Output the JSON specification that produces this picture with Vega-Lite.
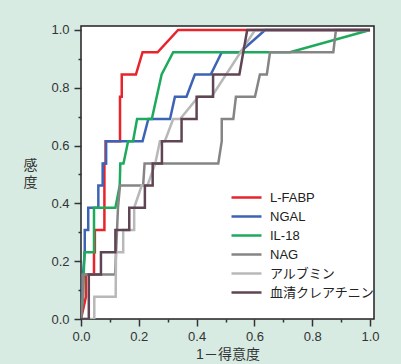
{
  "$schema": "https://vega.github.io/schema/vega-lite/v6.json",
  "width": 293,
  "height": 293,
  "autosize": {"type": "none"},
  "padding": {"left": 81, "top": 26, "right": 27, "bottom": 45},
  "background": "#d7ebe3",
  "config": {
    "view": {"fill": "white", "stroke": "#222222", "strokeWidth": 1.5},
    "font": "Liberation Sans, Noto Sans CJK JP"
  },
  "data": {"values": [
    {"s":"L-FABP","i":0,"x":0,"y":0},{"s":"L-FABP","i":1,"x":0.017,"y":0.077},{"s":"L-FABP","i":2,"x":0.017,"y":0.154},{"s":"L-FABP","i":3,"x":0.045,"y":0.154},{"s":"L-FABP","i":4,"x":0.045,"y":0.231},{"s":"L-FABP","i":5,"x":0.048,"y":0.231},{"s":"L-FABP","i":6,"x":0.048,"y":0.308},{"s":"L-FABP","i":7,"x":0.081,"y":0.308},{"s":"L-FABP","i":8,"x":0.081,"y":0.538},{"s":"L-FABP","i":9,"x":0.085,"y":0.538},{"s":"L-FABP","i":10,"x":0.085,"y":0.615},{"s":"L-FABP","i":11,"x":0.135,"y":0.615},{"s":"L-FABP","i":12,"x":0.135,"y":0.769},{"s":"L-FABP","i":13,"x":0.141,"y":0.769},{"s":"L-FABP","i":14,"x":0.141,"y":0.846},{"s":"L-FABP","i":15,"x":0.19,"y":0.846},{"s":"L-FABP","i":16,"x":0.213,"y":0.923},{"s":"L-FABP","i":17,"x":0.265,"y":0.923},{"s":"L-FABP","i":18,"x":0.336,"y":1},{"s":"L-FABP","i":19,"x":1,"y":1},
    {"s":"NGAL","i":0,"x":0,"y":0},{"s":"NGAL","i":1,"x":0.007,"y":0.154},{"s":"NGAL","i":2,"x":0.013,"y":0.231},{"s":"NGAL","i":3,"x":0.013,"y":0.308},{"s":"NGAL","i":4,"x":0.025,"y":0.308},{"s":"NGAL","i":5,"x":0.025,"y":0.385},{"s":"NGAL","i":6,"x":0.06,"y":0.385},{"s":"NGAL","i":7,"x":0.06,"y":0.462},{"s":"NGAL","i":8,"x":0.075,"y":0.462},{"s":"NGAL","i":9,"x":0.075,"y":0.538},{"s":"NGAL","i":10,"x":0.087,"y":0.538},{"s":"NGAL","i":11,"x":0.087,"y":0.615},{"s":"NGAL","i":12,"x":0.213,"y":0.615},{"s":"NGAL","i":13,"x":0.233,"y":0.692},{"s":"NGAL","i":14,"x":0.308,"y":0.692},{"s":"NGAL","i":15,"x":0.325,"y":0.769},{"s":"NGAL","i":16,"x":0.365,"y":0.769},{"s":"NGAL","i":17,"x":0.394,"y":0.846},{"s":"NGAL","i":18,"x":0.449,"y":0.846},{"s":"NGAL","i":19,"x":0.487,"y":0.923},{"s":"NGAL","i":20,"x":0.55,"y":0.923},{"s":"NGAL","i":21,"x":0.637,"y":1},{"s":"NGAL","i":22,"x":1,"y":1},
    {"s":"IL-18","i":0,"x":0,"y":0},{"s":"IL-18","i":1,"x":0.007,"y":0.077},{"s":"IL-18","i":2,"x":0.012,"y":0.231},{"s":"IL-18","i":3,"x":0.045,"y":0.231},{"s":"IL-18","i":4,"x":0.045,"y":0.385},{"s":"IL-18","i":5,"x":0.119,"y":0.385},{"s":"IL-18","i":6,"x":0.134,"y":0.462},{"s":"IL-18","i":7,"x":0.136,"y":0.538},{"s":"IL-18","i":8,"x":0.147,"y":0.538},{"s":"IL-18","i":9,"x":0.163,"y":0.615},{"s":"IL-18","i":10,"x":0.18,"y":0.615},{"s":"IL-18","i":11,"x":0.194,"y":0.692},{"s":"IL-18","i":12,"x":0.245,"y":0.692},{"s":"IL-18","i":13,"x":0.279,"y":0.846},{"s":"IL-18","i":14,"x":0.319,"y":0.923},{"s":"IL-18","i":15,"x":0.723,"y":0.923},{"s":"IL-18","i":16,"x":1,"y":1},
    {"s":"NAG","i":0,"x":0,"y":0},{"s":"NAG","i":1,"x":0.006,"y":0.077},{"s":"NAG","i":2,"x":0.006,"y":0.154},{"s":"NAG","i":3,"x":0.118,"y":0.154},{"s":"NAG","i":4,"x":0.128,"y":0.385},{"s":"NAG","i":5,"x":0.135,"y":0.462},{"s":"NAG","i":6,"x":0.215,"y":0.462},{"s":"NAG","i":7,"x":0.22,"y":0.538},{"s":"NAG","i":8,"x":0.475,"y":0.538},{"s":"NAG","i":9,"x":0.487,"y":0.615},{"s":"NAG","i":10,"x":0.487,"y":0.692},{"s":"NAG","i":11,"x":0.527,"y":0.692},{"s":"NAG","i":12,"x":0.536,"y":0.769},{"s":"NAG","i":13,"x":0.602,"y":0.769},{"s":"NAG","i":14,"x":0.619,"y":0.846},{"s":"NAG","i":15,"x":0.643,"y":0.846},{"s":"NAG","i":16,"x":0.654,"y":0.923},{"s":"NAG","i":17,"x":0.873,"y":0.923},{"s":"NAG","i":18,"x":0.882,"y":1},{"s":"NAG","i":19,"x":1,"y":1},
    {"s":"アルブミン","i":0,"x":0,"y":0},{"s":"アルブミン","i":1,"x":0.046,"y":0},{"s":"アルブミン","i":2,"x":0.046,"y":0.077},{"s":"アルブミン","i":3,"x":0.12,"y":0.077},{"s":"アルブミン","i":4,"x":0.121,"y":0.231},{"s":"アルブミン","i":5,"x":0.146,"y":0.231},{"s":"アルブミン","i":6,"x":0.146,"y":0.308},{"s":"アルブミン","i":7,"x":0.184,"y":0.308},{"s":"アルブミン","i":8,"x":0.184,"y":0.385},{"s":"アルブミン","i":9,"x":0.21,"y":0.462},{"s":"アルブミン","i":10,"x":0.23,"y":0.462},{"s":"アルブミン","i":11,"x":0.257,"y":0.538},{"s":"アルブミン","i":12,"x":0.273,"y":0.615},{"s":"アルブミン","i":13,"x":0.29,"y":0.615},{"s":"アルブミン","i":14,"x":0.319,"y":0.692},{"s":"アルブミン","i":15,"x":0.343,"y":0.692},{"s":"アルブミン","i":16,"x":0.406,"y":0.769},{"s":"アルブミン","i":17,"x":0.452,"y":0.769},{"s":"アルブミン","i":18,"x":0.602,"y":1},{"s":"アルブミン","i":19,"x":1,"y":1},
    {"s":"血清クレアチニン","i":0,"x":0,"y":0},{"s":"血清クレアチニン","i":1,"x":0.027,"y":0},{"s":"血清クレアチニン","i":2,"x":0.027,"y":0.154},{"s":"血清クレアチニン","i":3,"x":0.069,"y":0.154},{"s":"血清クレアチニン","i":4,"x":0.069,"y":0.231},{"s":"血清クレアチニン","i":5,"x":0.119,"y":0.231},{"s":"血清クレアチニン","i":6,"x":0.119,"y":0.308},{"s":"血清クレアチニン","i":7,"x":0.167,"y":0.308},{"s":"血清クレアチニン","i":8,"x":0.167,"y":0.385},{"s":"血清クレアチニン","i":9,"x":0.221,"y":0.385},{"s":"血清クレアチニン","i":10,"x":0.221,"y":0.462},{"s":"血清クレアチニン","i":11,"x":0.248,"y":0.462},{"s":"血清クレアチニン","i":12,"x":0.248,"y":0.538},{"s":"血清クレアチニン","i":13,"x":0.28,"y":0.538},{"s":"血清クレアチニン","i":14,"x":0.28,"y":0.615},{"s":"血清クレアチニン","i":15,"x":0.348,"y":0.615},{"s":"血清クレアチニン","i":16,"x":0.348,"y":0.692},{"s":"血清クレアチニン","i":17,"x":0.4,"y":0.692},{"s":"血清クレアチニン","i":18,"x":0.4,"y":0.769},{"s":"血清クレアチニン","i":19,"x":0.457,"y":0.769},{"s":"血清クレアチニン","i":20,"x":0.457,"y":0.846},{"s":"血清クレアチニン","i":21,"x":0.548,"y":0.846},{"s":"血清クレアチニン","i":22,"x":0.575,"y":1},{"s":"血清クレアチニン","i":23,"x":1,"y":1}
  ]},
  "mark": {"type": "line", "strokeWidth": 2.5, "clip": true},
  "encoding": {
    "x": {
      "field": "x", "type": "quantitative",
      "scale": {"domain": [0, 1.0138], "nice": false, "zero": false},
      "axis": {
        "values": [0, 0.1, 0.2, 0.3, 0.4, 0.5, 0.6, 0.7, 0.8, 0.9, 1.0],
        "labelExpr": "round(datum.value*10)%2==0 ? format(datum.value,'.1f') : ''",
        "tickSize": {"condition": {"test": "round(datum.value*10)%2==0", "value": 7}, "value": 3},
        "domain": false, "grid": false,
        "tickColor": "#333333", "tickWidth": 1.5,
        "labelFontSize": 13, "labelColor": "#333333", "labelPadding": 4, "labelFlush": false,
        "title": "1－得意度", "titleFontSize": 14, "titleFontWeight": "normal", "titleColor": "#333333", "titlePadding": 4
      }
    },
    "y": {
      "field": "y", "type": "quantitative",
      "scale": {"domain": [0, 1.0138], "nice": false, "zero": false},
      "axis": {
        "values": [0, 0.1, 0.2, 0.3, 0.4, 0.5, 0.6, 0.7, 0.8, 0.9, 1.0],
        "labelExpr": "round(datum.value*10)%2==0 ? format(datum.value,'.1f') : ''",
        "tickSize": {"condition": {"test": "round(datum.value*10)%2==0", "value": 7}, "value": 3},
        "domain": false, "grid": false,
        "tickColor": "#333333", "tickWidth": 1.5,
        "labelFontSize": 13, "labelColor": "#333333", "labelPadding": 5, "labelFlush": false,
        "title": ["感", "度"], "titleAngle": 0, "titleX": -51, "titleY": 132,
        "titleAlign": "center", "titleBaseline": "top", "titleLineHeight": 17,
        "titleFontSize": 14, "titleFontWeight": "normal", "titleColor": "#333333"
      }
    },
    "color": {
      "field": "s", "type": "nominal",
      "scale": {
        "domain": ["L-FABP", "NGAL", "IL-18", "NAG", "アルブミン", "血清クレアチニン"],
        "range": ["#e8232b", "#3c63b4", "#1daa5c", "#858585", "#b8b8b8", "#5f4553"]
      },
      "legend": {
        "orient": "none", "legendX": 158, "legendY": 164, "title": null,
        "symbolType": "M-2.5,0H2.5", "symbolSize": 144, "symbolStrokeWidth": 2.5,
        "labelFontSize": 13, "labelColor": "#222222", "labelOffset": 16,
        "rowPadding": 4, "padding": 0
      }
    },
    "order": {"field": "i", "type": "quantitative"}
  }
}
